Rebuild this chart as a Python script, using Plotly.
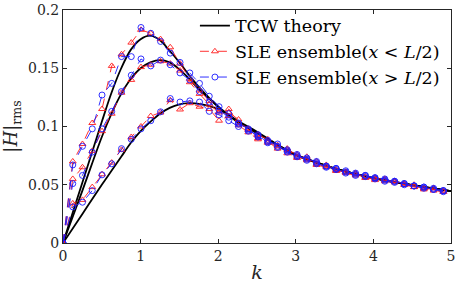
import plotly.graph_objects as go

# data grid (wavenumber k)
k_data = [0, 0.126, 0.251, 0.377, 0.503, 0.628, 0.754, 0.880, 1.005, 1.131,
          1.257, 1.382, 1.508, 1.634, 1.759, 1.885, 2.011, 2.136, 2.262, 2.388,
          2.513, 2.639, 2.765, 2.890, 3.016, 3.142, 3.267, 3.393, 3.519, 3.644,
          3.770, 3.896, 4.021, 4.147, 4.273, 4.398, 4.524, 4.650, 4.775, 4.901]

# SLE ensemble, x < L/2 (red)
red_A = [0, 0.070, 0.085, 0.103, 0.115, 0.152, 0.162, 0.172, 0.183, 0.180,
         0.175, 0.168, 0.154, 0.141, 0.131, 0.122, 0.113, 0.112, 0.106, 0.097,
         0.093, 0.089, 0.083, 0.080, 0.076, 0.071, 0.070, 0.067, 0.063, 0.061,
         0.060, 0.056, 0.056, 0.054, 0.053, 0.051, 0.048, 0.047, 0.047, 0.045]
red_B = [0, 0.055, 0.065, 0.079, 0.096, 0.111, 0.129, 0.140, 0.151, 0.153,
         0.156, 0.154, 0.148, 0.138, 0.128, 0.119, 0.112, 0.115, 0.103, 0.098,
         0.090, 0.086, 0.084, 0.077, 0.074, 0.072, 0.068, 0.066, 0.062, 0.061,
         0.059, 0.057, 0.054, 0.055, 0.052, 0.050, 0.050, 0.046, 0.047, 0.044]
red_C = [0, 0.034, 0.037, 0.048, 0.059, 0.069, 0.080, 0.091, 0.100, 0.109,
         0.112, 0.1226, 0.1146, 0.120, 0.117, 0.115, 0.105, 0.109, 0.101, 0.095,
         0.089, 0.087, 0.081, 0.081, 0.073, 0.074, 0.067, 0.065, 0.062, 0.060,
         0.058, 0.056, 0.055, 0.053, 0.053, 0.050, 0.048, 0.047, 0.045, 0.044]

# SLE ensemble, x > L/2 (blue)
blue_A = [0, 0.067, 0.083, 0.098, 0.127, 0.137, 0.160, 0.160, 0.185, 0.180,
          0.173, 0.163, 0.155, 0.146, 0.137, 0.126, 0.117, 0.111, 0.103, 0.098,
          0.091, 0.087, 0.085, 0.078, 0.074, 0.073, 0.068, 0.066, 0.064, 0.060,
          0.059, 0.058, 0.055, 0.054, 0.053, 0.050, 0.049, 0.048, 0.046, 0.045]
blue_B = [0, 0.051, 0.058, 0.078, 0.098, 0.113, 0.130, 0.144, 0.158, 0.152,
          0.157, 0.153, 0.146, 0.140, 0.130, 0.121, 0.114, 0.108, 0.102, 0.097,
          0.092, 0.088, 0.082, 0.079, 0.076, 0.071, 0.069, 0.065, 0.063, 0.062,
          0.058, 0.057, 0.056, 0.053, 0.052, 0.051, 0.049, 0.047, 0.046, 0.044]
blue_C = [0, 0.031, 0.035, 0.045, 0.0585, 0.068, 0.081, 0.089, 0.098, 0.105,
          0.1126, 0.124, 0.121, 0.122, 0.121, 0.113, 0.110, 0.105, 0.100, 0.096,
          0.093, 0.086, 0.083, 0.080, 0.075, 0.072, 0.070, 0.066, 0.064, 0.061,
          0.060, 0.058, 0.056, 0.055, 0.053, 0.051, 0.049, 0.048, 0.047, 0.045]

# TCW theory
k_theory = [0, 0.25, 0.5, 0.625, 0.75, 0.875, 1.0, 1.125, 1.25, 1.375, 1.5,
            1.625, 1.75, 2.0, 2.25, 2.5, 2.75, 3.0, 3.25, 3.5, 3.75, 4.0,
            4.25, 4.5, 4.75, 5.0]
theory_A = [0, 0.052, 0.104, 0.129, 0.150, 0.166, 0.175, 0.178, 0.174, 0.165,
            0.155, 0.144, 0.134, 0.117, 0.104, 0.0945, 0.0845, 0.0755, 0.0695,
            0.0640, 0.0595, 0.0557, 0.0525, 0.0497, 0.0470, 0.0445]
theory_B = [0, 0.045, 0.091, 0.111, 0.128, 0.141, 0.150, 0.155, 0.157, 0.155,
            0.149, 0.141, 0.132, 0.117, 0.104, 0.0945, 0.0845, 0.0755, 0.0695,
            0.0640, 0.0595, 0.0557, 0.0525, 0.0497, 0.0470, 0.0445]
theory_C = [0, 0.025, 0.050, 0.062, 0.074, 0.086, 0.096, 0.104, 0.111, 0.116,
            0.119, 0.120, 0.1195, 0.115, 0.105, 0.0955, 0.0850, 0.0758, 0.0697,
            0.0641, 0.0596, 0.0558, 0.0526, 0.0498, 0.0471, 0.0446]

x_ticks = [0, 1, 2, 3, 4, 5]
y_ticks = [0, 0.05, 0.1, 0.15, 0.2]
y_tick_labels = ["0", "0.05", "0.1", "0.15", "0.2"]

FONT = "DejaVu Serif"

fig = go.Figure()

for i, th in enumerate([theory_A, theory_B, theory_C]):
    fig.add_trace(go.Scatter(
        x=k_theory, y=th, mode="lines", line=dict(color="black", width=1.8, shape="spline"),
        name="TCW theory", legendgroup="th", showlegend=(i == 0)))

for i, s in enumerate([red_A, red_B, red_C]):
    fig.add_trace(go.Scatter(
        x=k_data, y=s, mode="lines+markers",
        line=dict(color="#ff1a1a", width=0.9, dash="dash"),
        marker=dict(symbol="triangle-up-open", size=6, color="#ff1a1a", line=dict(width=0.9)),
        name="SLE ensemble(<i>x</i> < <i>L</i>/2)", legendgroup="red", showlegend=(i == 0)))

for i, s in enumerate([blue_A, blue_B, blue_C]):
    fig.add_trace(go.Scatter(
        x=k_data, y=s, mode="lines+markers",
        line=dict(color="#1a1aff", width=0.9, dash="dash"),
        marker=dict(symbol="circle-open", size=6, color="#1a1aff", line=dict(width=0.9)),
        name="SLE ensemble(<i>x</i> > <i>L</i>/2)", legendgroup="blue", showlegend=(i == 0)))

axis_common = dict(
    showgrid=False, zeroline=False, showline=True, linecolor="#262626", linewidth=1,
    mirror="ticks", ticks="inside", ticklen=4, tickcolor="#262626",
    ticklabeloverflow="allow",
    tickfont=dict(family=FONT, size=14, color="#262626"),
)

fig.update_layout(
    width=457, height=284,
    margin=dict(l=63, r=2, t=5, b=41),
    paper_bgcolor="white", plot_bgcolor="white",
    font=dict(family=FONT, color="#262626"),
    hovermode=False,
    xaxis=dict(range=[0, 5], tickvals=x_ticks, **axis_common,
               title=dict(text="<i>k</i>", font=dict(family=FONT, size=19), standoff=2)),
    yaxis=dict(range=[0, 0.2], tickvals=y_ticks, ticktext=y_tick_labels, **axis_common,
               title=dict(text="|<i>H</i>|<sub>rms</sub>", font=dict(family=FONT, size=18), standoff=6)),
    legend=dict(x=0.34, y=1.01, xanchor="left", yanchor="top",
                bgcolor="rgba(255,255,255,0)", borderwidth=0,
                font=dict(family=FONT, size=17.5, color="black"),
                tracegroupgap=0, itemwidth=30),
    showlegend=True,
)

fig.write_html("out.html",
               config={"displayModeBar": False, "staticPlot": True},
               post_script="document.body.style.margin='0';document.body.style.overflow='hidden';")
